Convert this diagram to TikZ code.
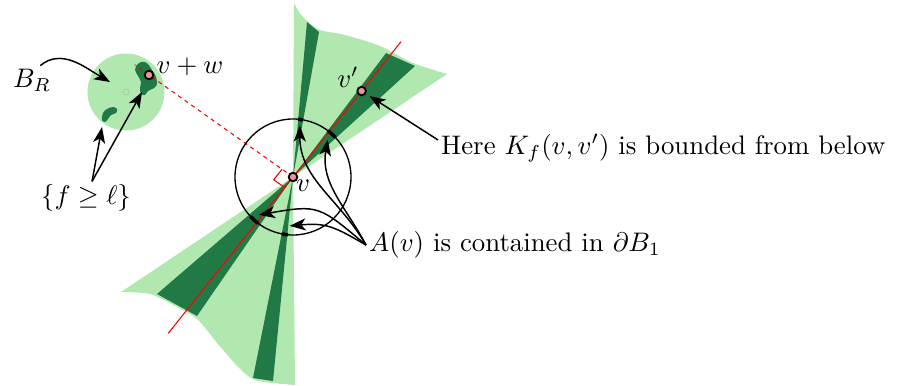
\documentclass[tikz,border=0pt]{standalone}
\usetikzlibrary{arrows.meta,calc}
\definecolor{cLIGHT}{RGB}{176,232,176}
\definecolor{cDARK}{RGB}{33,122,70}
\definecolor{cDOT}{RGB}{235,150,150}
\tikzset{
  dot/.style={circle,draw=black,fill=cDOT,line width=0.7pt,inner sep=0pt,minimum size=3.2pt},
  pointer/.style={line width=0.55pt,-{Stealth[length=6pt,width=4.5pt,inset=1.6pt]}},
  arcmark/.style={line width=1.3pt},
}
\begin{document}
\begin{tikzpicture}[x=0.0131cm,y=0.0131cm]
\useasboundingbox (0,0) rectangle (904,385);
\coordinate (v) at (293,208);
\coordinate (vw) at (149,310);
\coordinate (rhi) at ($(v)+(51.4:173)$);
\coordinate (rlo) at ($(v)+(231.4:200)$);
\fill[cLIGHT] (v) -- plot[smooth,tension=0.5] coordinates {(294,382) (299,373) (307,364) (320,355) (345,350) (380,339) (413,322) (447,311)} -- cycle;
\fill[cLIGHT] (v) -- plot[smooth,tension=0.5] coordinates {(121,93) (150,91) (175,79) (197,66) (218,41) (240,16) (255,5) (273,2) (295,0)} -- cycle;
\fill[cDARK] (v) -- (307,363) -- (319,353) -- cycle;
\fill[cDARK] (v) -- (386,332) -- (415,319) -- cycle;
\fill[cDARK] (v) -- (157,91) -- (197,69) -- cycle;
\fill[cDARK] (v) -- (253,7) -- (273,4) -- cycle;
\fill[cLIGHT] (126,293) circle (38.5);
\draw[cLIGHT!92!black,thin] (126,293) circle (3);
\fill[cDARK] plot[smooth cycle,tension=0.6] coordinates {(136,319) (141,323) (147,322) (152,315) (156,308) (157,301) (154,297) (148,294) (145,290) (141,291) (140,297) (141,303) (138,309) (135,315)};
\fill[cDARK] plot[smooth cycle,tension=0.6] coordinates {(102,265) (103,272) (107,276) (113,278) (117,276) (116,272) (111,270) (108,266) (105,263)};
\draw[red,thin] (rlo) -- (rhi);
\draw[red,thin,dash pattern=on 1.5pt off 1.5pt] (v) -- ($(v)!1.1!(vw)$);
\coordinate (ra1) at ($(v)!5pt!(vw)$);
\coordinate (ra2) at ($(v)!5pt!(rlo)$);
\draw[red,thin] (ra1) -- ($(ra1)+(ra2)-(v)$) -- (ra2);
\draw[line width=0.5pt] (v) circle (58);
\draw[arcmark] ($(v)+(80:58)$) arc (80:85:58);
\draw[arcmark] ($(v)+(43:58)$) arc (43:53:58);
\draw[arcmark] ($(v)+(223:58)$) arc (223:233:58);
\draw[arcmark] ($(v)+(259:58)$) arc (259:265:58);
\node[dot] (nv) at (v) {};
\node[dot] (nvp) at ($(v)+(51.4:110)$) {};
\node[dot] (nvw) at (vw) {};
\node (lv) at (303,199) {$v$};
\node (lvp) at (348,308) {$v'$};
\node (lvw) at (190,318) {$v+w$};
\node[inner sep=1pt] (lB) at (32,305) {$B_R$};
\node[inner sep=1pt] (lF) at (86,187) {$\{f\geq\ell\}$};
\node[anchor=west,inner sep=1pt] (lK) at (438,237) {Here $K_f(v,v')$ is bounded from below};
\node[anchor=west,inner sep=1pt] (lA) at (366,140) {$A(v)$ is contained in $\partial B_1$};
\coordinate (bIn) at (110,303);
\coordinate (fA) at (102,258);
\coordinate (fB) at (142,293);
\coordinate (t1) at ($(v)+(82.5:52)$);
\coordinate (t2) at ($(v)+(47:51)$);
\coordinate (t3) at ($(v)+(228:51)$);
\coordinate (t4) at ($(v)+(266:49)$);
\draw[pointer] (lB.60) to[out=40,in=150] (bIn);
\draw[pointer] (lF.70) -- (fA);
\draw[pointer] (lF.70) -- (fB);
\draw[pointer,shorten >=1.5pt] ([yshift=3pt]lK.west) -- (nvp);
\draw[pointer] (lA.west) to[out=120,in=-90] (t1);
\draw[pointer] (lA.west) to[out=118,in=-100] (t2);
\draw[pointer] (lA.west) to[out=140,in=10,looseness=1.4] (t3);
\draw[pointer] (lA.west) to[out=150,in=5,looseness=1.2] (t4);
\end{tikzpicture}
\end{document}
